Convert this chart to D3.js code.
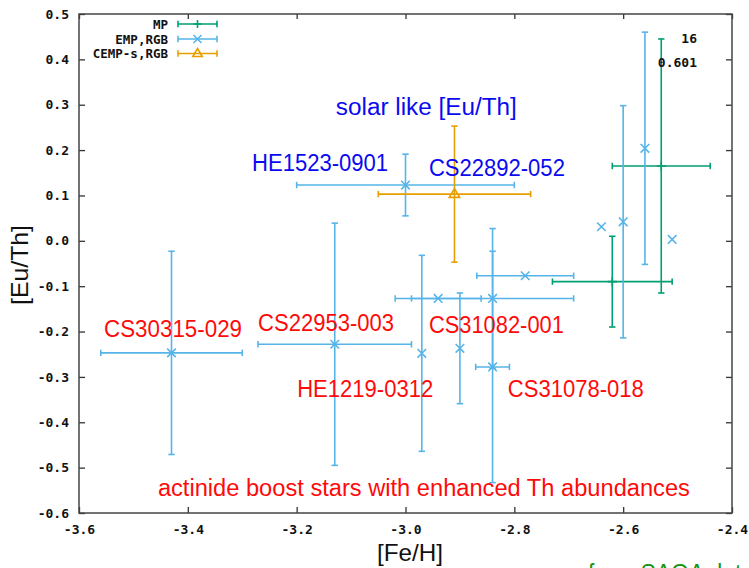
<!DOCTYPE html>
<html>
<head>
<meta charset="utf-8">
<script src="https://cdn.jsdelivr.net/npm/d3@7"></script>
<style>
  html, body { margin: 0; padding: 0; background: #fff; }
  svg { display: block; }
</style>
</head>
<body>
<script>
// ---------------- data ----------------
// MP stars (green)
const mpFe       = [-2.62, -2.53];
const mpEuTh     = [-0.09, 0.165];
const mpFeErr    = [0.11, 0.09];
const mpEuThErr  = [0.10, 0.28];

// EMP, RGB stars (light blue)
const empFe      = [-3.43, -3.13, -3.00, -2.97, -2.94, -2.90, -2.84, -2.84, -2.78, -2.64, -2.60, -2.56, -2.51];
const empEuTh    = [-0.247, -0.228, 0.123, -0.248, -0.127, -0.237, -0.127, -0.278, -0.077, 0.031, 0.042, 0.204, 0.003];
const empFeErr   = [0.13, 0.141, 0.20, 0, 0.079, 0, 0.149, 0.031, 0.089, 0, 0, 0, 0];
const empEuThErr = [0.224, 0.267, 0.068, 0.216, 0, 0.122, 0.154, 0.255, 0, 0, 0.256, 0.256, 0];

// CEMP-s, RGB stars (orange)
const cempFe       = [-2.91];
const cempEuTh     = [0.103];
const cempFeErr    = [0.14];
const cempEuThErr  = [0.15];

const seriesNames = ["MP", "EMP,RGB", "CEMP-s,RGB"];
const xTickValues = [-3.6, -3.4, -3.2, -3.0, -2.8, -2.6, -2.4];
const xTickLabels = ["-3.6", "-3.4", "-3.2", "-3.0", "-2.8", "-2.6", "-2.4"];
const yTickValues = [0.5, 0.4, 0.3, 0.2, 0.1, 0.0, -0.1, -0.2, -0.3, -0.4, -0.5, -0.6];
const yTickLabels = ["0.5", "0.4", "0.3", "0.2", "0.1", "0.0", "-0.1", "-0.2", "-0.3", "-0.4", "-0.5", "-0.6"];

const cornerTexts = ["16", "0.601"];

// star-name annotations (anchored in data coordinates, left/baseline)
const starNames  = ["solar like [Eu/Th]", "HE1523-0901", "CS22892-052", "CS30315-029", "CS22953-003",
                    "CS31082-001", "HE1219-0312", "CS31078-018",
                    "actinide boost stars with enhanced Th abundances"];
const starNameFe   = [-3.128, -3.282, -2.957, -3.554, -3.271, -2.957, -3.199, -2.812, -3.455];
const starNameEuTh = [0.277, 0.154, 0.143, -0.212, -0.199, -0.203, -0.344, -0.344, -0.563];
const starNameGroup = [0, 0, 0, 1, 1, 1, 1, 1, 1]; // 0 = solar-like (blue), 1 = actinide boost (red)

// ---------------- layout ----------------
const W = 749, H = 568;
const L = 79, R = 732, T = 14, B = 513;
const colors = ["#009e73", "#56b4e9", "#e69f00"];
const textColors = ["#0a0af0", "#ff0a0a"];
const annotWidths = [181, 136, 136, 138, 136, 135, 136, 136, 532];

const svg = d3.select("body").append("svg").attr("width", W).attr("height", H);

const x = d3.scaleLinear().domain([-3.6, -2.4]).range([L, R]);
const y = d3.scaleLinear().domain([-0.6, 0.5]).range([B, T]);

const tickFont = "'DejaVu Sans Mono', monospace";

// axes (inward ticks, mirrored)
function styleAxis(g) {
  g.select(".domain").remove();
  g.selectAll(".tick line").attr("stroke", "#333").attr("stroke-width", 1.3);
  g.selectAll(".tick text").attr("font-family", tickFont).attr("font-weight", "bold")
    .attr("font-size", 13).attr("fill", "#111");
}
svg.append("g").attr("transform", `translate(${L},0)`)
  .call(d3.axisLeft(y).tickValues(yTickValues).tickFormat((d, i) => yTickLabels[i])
    .tickSizeInner(-6).tickSizeOuter(0).tickPadding(10))
  .call(styleAxis);
svg.append("g").attr("transform", `translate(${R},0)`)
  .call(d3.axisRight(y).tickValues(yTickValues).tickFormat("").tickSizeInner(-6).tickSizeOuter(0))
  .call(styleAxis);
svg.append("g").attr("transform", `translate(0,${B})`)
  .call(d3.axisBottom(x).tickValues(xTickValues).tickFormat((d, i) => xTickLabels[i])
    .tickSizeInner(-6).tickSizeOuter(0).tickPadding(12))
  .call(styleAxis);
svg.append("g").attr("transform", `translate(0,${T})`)
  .call(d3.axisTop(x).tickValues(xTickValues).tickFormat("").tickSizeInner(-5).tickSizeOuter(0))
  .call(styleAxis);

// frame
svg.append("rect").attr("x", L).attr("y", T).attr("width", R - L).attr("height", B - T)
  .attr("fill", "none").attr("stroke", "#444").attr("stroke-width", 1.5);

// axis titles
const labelFont = "'Liberation Sans', Arial, sans-serif";
svg.append("text").attr("x", 410).attr("y", 561).attr("text-anchor", "middle")
  .attr("font-family", labelFont).attr("font-size", 24).attr("fill", "#111")
  .attr("textLength", 66).attr("lengthAdjust", "spacingAndGlyphs").text("[Fe/H]");
svg.append("text").attr("transform", "translate(28,265) rotate(-90)").attr("text-anchor", "middle")
  .attr("font-family", labelFont).attr("font-size", 24).attr("fill", "#111")
  .attr("textLength", 80).attr("lengthAdjust", "spacingAndGlyphs").text("[Eu/Th]");

// ---------------- marks ----------------
const plot = svg.append("g");
const CAP = 3.2, SW = 1.6;

function drawErrorBars(g, fe, eu, feErr, euErr, color) {
  fe.forEach((f, i) => {
    const cx = x(f), cy = y(eu[i]);
    if (feErr[i] > 0) {
      const x0 = x(f - feErr[i]), x1 = x(f + feErr[i]);
      g.append("line").attr("x1", x0).attr("x2", x1).attr("y1", cy).attr("y2", cy);
      g.append("line").attr("x1", x0).attr("x2", x0).attr("y1", cy - CAP).attr("y2", cy + CAP);
      g.append("line").attr("x1", x1).attr("x2", x1).attr("y1", cy - CAP).attr("y2", cy + CAP);
    }
    if (euErr[i] > 0) {
      const y0 = y(eu[i] + euErr[i]), y1 = y(eu[i] - euErr[i]);
      g.append("line").attr("x1", cx).attr("x2", cx).attr("y1", y0).attr("y2", y1);
      g.append("line").attr("x1", cx - CAP).attr("x2", cx + CAP).attr("y1", y0).attr("y2", y0);
      g.append("line").attr("x1", cx - CAP).attr("x2", cx + CAP).attr("y1", y1).attr("y2", y1);
    }
  });
  g.attr("stroke", color).attr("stroke-width", SW).attr("fill", "none");
}

function crossPath(cx, cy, r) {
  return `M${cx - r},${cy - r}L${cx + r},${cy + r}M${cx - r},${cy + r}L${cx + r},${cy - r}`;
}
function plusPath(cx, cy, r) {
  return `M${cx - r},${cy}L${cx + r},${cy}M${cx},${cy - r}L${cx},${cy + r}`;
}
function triPath(cx, cy, r) {
  return `M${cx},${cy - r}L${cx + r * 0.95},${cy + r * 0.6}L${cx - r * 0.95},${cy + r * 0.6}Z`;
}

// MP
const gMP = plot.append("g");
drawErrorBars(gMP, mpFe, mpEuTh, mpFeErr, mpEuThErr, colors[0]);
mpFe.forEach((f, i) => gMP.append("path").attr("d", plusPath(x(f), y(mpEuTh[i]), 4.5)));

// EMP
const gEMP = plot.append("g");
drawErrorBars(gEMP, empFe, empEuTh, empFeErr, empEuThErr, colors[1]);
empFe.forEach((f, i) => gEMP.append("path").attr("d", crossPath(x(f), y(empEuTh[i]), 4.3)));

// CEMP-s
const gC = plot.append("g");
drawErrorBars(gC, cempFe, cempEuTh, cempFeErr, cempEuThErr, colors[2]);
cempFe.forEach((f, i) => gC.append("path").attr("d", triPath(x(f), y(cempEuTh[i]), 5.5)));

// ---------------- legend ----------------
const lg = svg.append("g");
const legRows = [24, 39, 53.5];
const lx0 = 178, lx1 = 217, lxm = 197.5;
seriesNames.forEach((name, i) => {
  const yy = legRows[i];
  lg.append("text").attr("x", 168).attr("y", yy).attr("dy", "0.36em").attr("text-anchor", "end")
    .attr("font-family", tickFont).attr("font-weight", "bold").attr("font-size", 12.5).attr("fill", "#111")
    .text(name);
  const g = lg.append("g").attr("stroke", colors[i]).attr("stroke-width", SW).attr("fill", "none");
  g.append("line").attr("x1", lx0).attr("x2", lx1).attr("y1", yy).attr("y2", yy);
  g.append("line").attr("x1", lx0).attr("x2", lx0).attr("y1", yy - CAP).attr("y2", yy + CAP);
  g.append("line").attr("x1", lx1).attr("x2", lx1).attr("y1", yy - CAP).attr("y2", yy + CAP);
  if (i === 0) g.append("path").attr("d", plusPath(lxm, yy, 4));
  if (i === 1) g.append("path").attr("d", crossPath(lxm, yy, 4));
  if (i === 2) g.append("path").attr("d", triPath(lxm, yy, 5));
});

// corner texts
svg.append("text").attr("x", 697).attr("y", 43).attr("text-anchor", "end")
  .attr("font-family", tickFont).attr("font-weight", "bold").attr("font-size", 13).attr("fill", "#111")
  .text(cornerTexts[0]);
svg.append("text").attr("x", 697).attr("y", 67).attr("text-anchor", "end")
  .attr("font-family", tickFont).attr("font-weight", "bold").attr("font-size", 13).attr("fill", "#111")
  .text(cornerTexts[1]);

// annotations
starNames.forEach((t, i) => {
  svg.append("text").attr("x", x(starNameFe[i])).attr("y", y(starNameEuTh[i]))
    .attr("font-family", labelFont).attr("font-size", 23)
    .attr("fill", textColors[starNameGroup[i]])
    .attr("textLength", annotWidths[i]).attr("lengthAdjust", "spacingAndGlyphs")
    .text(t);
});

// source note (partly cut off at the bottom, as in the original slide)
svg.append("text").attr("x", 588).attr("y", 581).attr("font-family", labelFont).attr("font-size", 23)
  .attr("fill", "#149614").text("from SAGA database");
</script>
</body>
</html>
